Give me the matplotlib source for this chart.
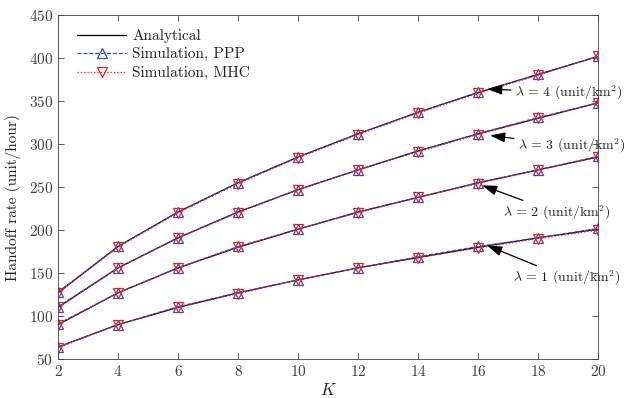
import matplotlib
matplotlib.use("Agg")
import matplotlib.pyplot as plt
import numpy as np

plt.rcParams["font.family"] = "serif"
plt.rcParams["font.serif"] = ["cmr10", "DejaVu Serif"]
plt.rcParams["mathtext.fontset"] = "cm"
plt.rcParams["axes.formatter.use_mathtext"] = True

K = [2, 4, 6, 8, 10, 12, 14, 16, 18, 20]

# handoff rate per density lambda (unit/km^2)
rate_l1 = [64, 90, 110, 127, 142, 156, 168, 180, 191, 201]
rate_l2 = [90, 127, 156, 180, 201, 221, 238, 255, 270, 285]
rate_l3 = [110, 156, 191, 221, 247, 270, 292, 312, 330, 348]
rate_l4 = [127, 181, 221, 255, 285, 312, 337, 360, 381, 402]

ppp_l1 = [64, 90, 111, 127, 142, 156, 169, 181, 191, 202]
ppp_l2 = [91, 127, 156, 181, 201, 221, 238, 255, 270, 286]
ppp_l3 = [111, 156, 191, 221, 247, 270, 292, 312, 331, 348]
ppp_l4 = [128, 181, 221, 255, 285, 312, 337, 360, 381, 402]

mhc_l1 = [63, 90, 110, 126, 142, 156, 168, 179, 190, 200]
mhc_l2 = [90, 127, 156, 180, 201, 220, 238, 254, 270, 285]
mhc_l3 = [110, 156, 191, 220, 247, 270, 291, 311, 330, 348]
mhc_l4 = [127, 180, 220, 254, 284, 311, 336, 359, 380, 402]

labels = [r"$\lambda \,=\, 1$ (unit/km$^2$)", r"$\lambda \,=\, 2$ (unit/km$^2$)",
          r"$\lambda \,=\, 3$ (unit/km$^2$)", r"$\lambda \,=\, 4$ (unit/km$^2$)"]
arrow_tips = [(16.3, 182), (16.13, 252), (16.4, 310), (16.3, 364)]
text_pos = [(17.17, 144), (16.83, 220), (17.33, 298), (17.23, 360)]

fig = plt.figure(figsize=(6.31, 3.98), dpi=100)
ax = fig.add_axes([0.092, 0.098, 0.856, 0.864])

blue = "#2f4fc0"
red = "#ff1a1a"
analytical = [rate_l1, rate_l2, rate_l3, rate_l4]
ppp = [ppp_l1, ppp_l2, ppp_l3, ppp_l4]
mhc = [mhc_l1, mhc_l2, mhc_l3, mhc_l4]

for i in range(4):
    ax.plot(K, analytical[i], "-", color="black", lw=0.9,
            label="Analytical" if i == 0 else None)
    ax.plot(K, ppp[i], "--", color=blue, lw=0.8, marker="^", ms=7,
            mfc="none", mec=blue, mew=0.9,
            label="Simulation, PPP" if i == 0 else None)
    ax.plot(K, mhc[i], ":", color=red, lw=0.9, marker="v", ms=7,
            mfc="none", mec=red, mew=0.9,
            label="Simulation, MHC" if i == 0 else None)

for lab, tip, pos in zip(labels, arrow_tips, text_pos):
    ax.annotate(lab, xy=tip, xytext=pos, fontsize=10, color="#222222",
                va="center", ha="left",
                arrowprops=dict(arrowstyle="-|>,head_length=0.9,head_width=0.3",
                                color="black", lw=0.9, shrinkA=1, shrinkB=0))

ax.set_xlim(2, 20)
ax.set_ylim(50, 450)
ax.set_xticks(K)
ax.set_yticks(np.arange(50, 451, 50))
ax.tick_params(direction="in", top=True, right=True, labelsize=11,
               colors="#404040", length=4, width=0.6)
for s in ax.spines.values():
    s.set_color("#404040")
    s.set_linewidth(0.6)

ax.set_xlabel(r"$K$", fontsize=12, color="#222222", labelpad=2)
ax.set_ylabel("Handoff rate (unit/hour)", fontsize=11, color="#222222")
ax.yaxis.set_label_coords(-0.068, 0.47)

leg = ax.legend(loc="upper left", bbox_to_anchor=(0.01, 1.0), frameon=False,
                fontsize=11, handlelength=3.2, borderaxespad=0.5,
                labelspacing=0.3, handletextpad=0.4)
for t in leg.get_texts():
    t.set_color("#222222")

fig.savefig("out.png", dpi=100)
